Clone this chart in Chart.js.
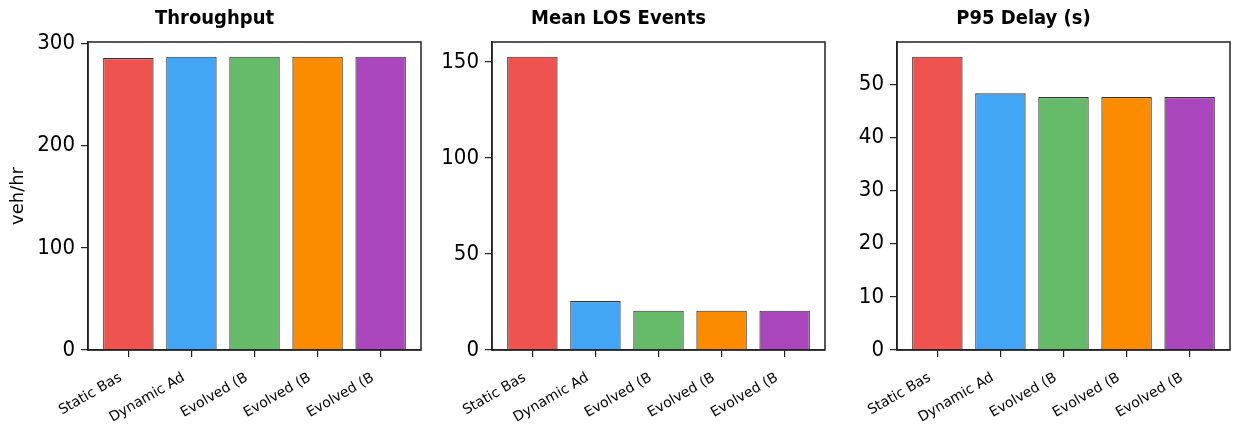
<!DOCTYPE html>
<html>
<head>
<meta charset="utf-8">
<script src="https://cdn.jsdelivr.net/npm/chart.js@4.4.1/dist/chart.umd.min.js"></script>
<style>
  html, body { margin: 0; padding: 0; background: #fff; }
  #wrap { position: relative; width: 1233px; height: 426px; overflow: hidden; }
  .panel { position: absolute; top: 0; height: 426px; }
</style>
</head>
<body>
<div id="wrap">
  <div class="panel" style="left:8px;width:415px"><canvas id="c1"></canvas></div>
  <div class="panel" style="left:412px;width:415px"><canvas id="c2"></canvas></div>
  <div class="panel" style="left:817px;width:415px"><canvas id="c3"></canvas></div>
</div>
<script>
// data
const categories = ['Static Bas', 'Dynamic Ad', 'Evolved (B', 'Evolved (B', 'Evolved (B'];
const throughput = [285.7, 287, 287, 287, 287];
const losEvents = [152.8, 25.5, 20.5, 20.5, 20.5];
const p95Delay = [55.2, 48.3, 47.6, 47.6, 47.6];

const throughputTicks = [0, 100, 200, 300];
const losTicks = [0, 50, 100, 150];
const delayTicks = [0, 10, 20, 30, 40, 50];

const barColors = ['#EF5350', '#42A5F5', '#66BB6A', '#FB8C00', '#AB47BC'];

Chart.defaults.font.family = "'DejaVu Sans', sans-serif";
Chart.defaults.color = '#000';

const ink = '#222';
const condensed = "'DejaVu Sans Condensed', 'DejaVu Sans', sans-serif";

// top + right spines (matplotlib box)
const framePlugin = {
    id: 'frame',
    afterDatasetsDraw(chart) {
        const a = chart.chartArea;
        const ctx = chart.ctx;
        ctx.save();
        ctx.strokeStyle = ink;
        ctx.lineWidth = 1.5;
        ctx.strokeRect(a.left, a.top, a.right - a.left, a.bottom - a.top);
        ctx.restore();
    }
};

function makeChart(id, title, values, yTicks, yLabel) {
    const n = categories.length;
    // same margins as matplotlib: bar edges +- 0.4, then 5% padding
    const span = (n - 1) + 0.8;
    const xMin = -0.4 - 0.05 * span;
    const xMax = (n - 1) + 0.4 + 0.05 * span;
    const yMax = Math.max(...values) * 1.05;

    return new Chart(document.getElementById(id), {
        type: 'bar',
        data: {
            datasets: [{
                data: values.map((v, i) => ({ x: i, y: v })),
                backgroundColor: barColors,
                borderColor: '#333',
                borderWidth: 1.2,
                barPercentage: 0.8,
                categoryPercentage: 1.0
            }]
        },
        options: {
            responsive: true,
            maintainAspectRatio: false,
            animation: false,
            layout: { padding: { left: 0, right: 2, top: 0, bottom: 0 } },
            plugins: {
                legend: { display: false },
                tooltip: { enabled: false },
                title: {
                    display: true,
                    text: title,
                    font: { size: 20, weight: 'bold', family: condensed },
                    color: '#000',
                    padding: { top: 7, bottom: 11 }
                }
            },
            scales: {
                x: {
                    type: 'linear',
                    min: xMin,
                    max: xMax,
                    offset: false,
                    afterBuildTicks: axis => {
                        axis.ticks = categories.map((_, i) => ({ value: i }));
                    },
                    afterFit: scale => { scale.height = 76; },
                    ticks: {
                        autoSkip: false,
                        minRotation: 30,
                        maxRotation: 30,
                        padding: 8,
                        font: { size: 14 },
                        // trailing spaces push the rotated text left/down like ha='right'
                        callback: v => categories[v] + '  '
                    },
                    grid: {
                        offset: false,
                        drawOnChartArea: false,
                        drawTicks: true,
                        tickLength: 7,
                        color: ink,
                        lineWidth: 1.2
                    },
                    border: { display: true, color: ink, width: 1.5 }
                },
                y: {
                    min: 0,
                    max: yMax,
                    afterBuildTicks: axis => {
                        axis.ticks = yTicks.map(v => ({ value: v }));
                    },
                    afterFit: scale => { scale.width = 80; },
                    ticks: {
                        padding: 6,
                        font: { size: 22, family: condensed }
                    },
                    grid: {
                        drawOnChartArea: false,
                        drawTicks: true,
                        tickLength: 7,
                        color: ink,
                        lineWidth: 1.2
                    },
                    border: { display: true, color: ink, width: 1.5 },
                    title: {
                        display: !!yLabel,
                        text: yLabel || '',
                        font: { size: 18 },
                        color: '#000',
                        padding: { top: 0, bottom: 0 }
                    }
                }
            }
        },
        plugins: [framePlugin]
    });
}

makeChart('c1', 'Throughput', throughput, throughputTicks, 'veh/hr');
makeChart('c2', 'Mean LOS Events', losEvents, losTicks, null);
makeChart('c3', 'P95 Delay (s)', p95Delay, delayTicks, null);
</script>
</body>
</html>
